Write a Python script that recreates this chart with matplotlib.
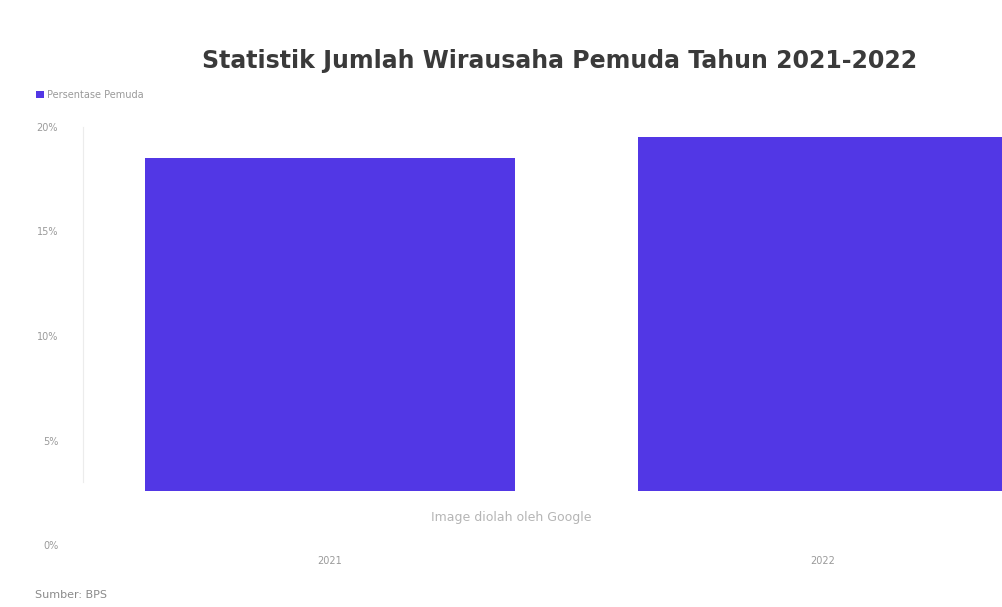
import matplotlib

matplotlib.use("Agg")
import matplotlib.pyplot as plt

# data
years = ["2021", "2022"]
persen_pemuda = [18.5, 19.5]
bar_base = 2.6  # bars in the reference start above the 0% line
y_ticks = [0, 5, 10, 15, 20]
y_labels = ["0%", "5%", "10%", "15%", "20%"]

bar_color = "#5237E5"
text_grey = "#9a9a9a"

fig = plt.figure(figsize=(10.03, 6.07), dpi=100)
# right edge runs past the figure, the 2022 bar is cut off in the reference
ax = fig.add_axes([0.083, 0.102, 0.983, 0.689])

x = list(range(len(years)))
heights = [v - bar_base for v in persen_pemuda]
ax.bar(x, heights, bottom=bar_base, width=0.75, color=bar_color,
       label="Persentase Pemuda", zorder=2)

ax.set_xlim(-0.5, 1.5)
ax.set_ylim(0, 20)
ax.set_yticks(y_ticks)
ax.set_yticklabels(y_labels)
ax.set_xticks(x)
ax.set_xticklabels(years)
ax.tick_params(axis="both", length=0, labelsize=7, labelcolor=text_grey)
ax.tick_params(axis="y", pad=18)
ax.tick_params(axis="x", pad=8)

for side in ["top", "right", "bottom"]:
    ax.spines[side].set_visible(False)
ax.spines["left"].set_color("#ececec")
ax.spines["left"].set_bounds(3, 20)

fig.text(0.558, 0.9, "Statistik Jumlah Wirausaha Pemuda Tahun 2021-2022",
         ha="center", va="center", fontsize=17, fontweight="bold", color="#3a3a3a")

# legend as in the reference: small square + faint label
fig.legend(loc="upper left", bbox_to_anchor=(0.032, 0.858), frameon=False,
           fontsize=7, handlelength=0.8, handleheight=0.8, handletextpad=0.3,
           labelcolor=text_grey, borderaxespad=0)

fig.text(0.51, 0.148, "Image diolah oleh Google", ha="center", va="center",
         fontsize=9, color="#b5b5b5")
fig.text(0.035, 0.02, "Sumber: BPS", ha="left", va="center",
         fontsize=8, color="#8a8a8a")

fig.savefig("out.png", dpi=100)
